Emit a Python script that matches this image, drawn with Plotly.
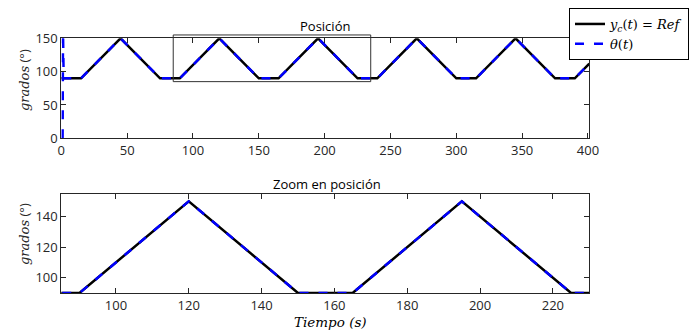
import plotly.graph_objects as go

# ---- data ----
t_ref = [0, 15, 45, 75, 90, 120, 150, 165, 195, 225, 240, 270, 300, 315, 345, 375, 390, 401]
y_ref = [90, 90, 150, 90, 90, 150, 90, 90, 150, 90, 90, 150, 90, 90, 150, 90, 90, 112]

t_theta = [1.0, 1.3, 1.8, 15, 45, 75, 90, 120, 150, 165, 195, 225, 240, 270, 300, 315, 345, 375, 390, 401]
y_theta = [0, 160, 90, 90, 150, 90, 90, 150, 90, 90, 150, 90, 90, 150, 90, 90, 150, 90, 90, 112]

top_xrange = [0, 401]
top_yrange = [0, 150]
top_xticks = [0, 50, 100, 150, 200, 250, 300, 350, 400]
top_yticks = [0, 50, 100, 150]

bot_xrange = [85, 230]
bot_yrange = [90, 155]
bot_xticks = [100, 120, 140, 160, 180, 200, 220]
bot_yticks = [100, 120, 140]

zoom_box_x = [85, 235]
zoom_box_y = [85, 155]

# page window and the default body margin of the html page
W, H = 697, 334
OFF = 8
FW, FH = W - OFF, H - OFF

AX = "#262626"
SERIF = "DejaVu Serif"
SANS = "Open Sans"

fig = go.Figure()

for xa, ya, show in [("x", "y", True), ("x2", "y2", False)]:
    fig.add_trace(go.Scatter(
        x=t_ref, y=y_ref, mode="lines", xaxis=xa, yaxis=ya,
        line=dict(color="black", width=2.5),
        name="<i>y</i><sub><i>c</i></sub>(<i>t</i>) = <i>Ref</i>",
        showlegend=show, legendgroup="ref"))
    fig.add_trace(go.Scatter(
        x=t_theta, y=y_theta, mode="lines", xaxis=xa, yaxis=ya,
        line=dict(color="#0000FF", width=2.5, dash="9px,10px"),
        name="<i>θ</i>(<i>t</i>)",
        showlegend=show, legendgroup="theta"))


def px_x(a):
    return (a - OFF) / FW


def px_y(b):
    return 1 - (b - OFF) / FH


axis_common = dict(
    showline=True, linecolor=AX, linewidth=1, mirror="ticks",
    ticks="inside", ticklen=5, tickcolor=AX, tickwidth=1,
    showgrid=False, zeroline=False,
    tickfont=dict(family=SANS, size=13, color=AX),
)

fig.update_layout(
    width=FW, height=FH,
    margin=dict(l=0, r=0, t=0, b=0, autoexpand=False),
    paper_bgcolor="white", plot_bgcolor="white",
    xaxis=dict(domain=[px_x(61.3), px_x(589.3)], range=top_xrange, tickvals=top_xticks,
               anchor="y", **axis_common),
    yaxis=dict(domain=[px_y(138.3), px_y(38.3)], range=top_yrange, tickvals=top_yticks,
               anchor="x", **axis_common),
    xaxis2=dict(domain=[px_x(61.3), px_x(589.3)], range=bot_xrange, tickvals=bot_xticks,
                anchor="y2", **axis_common),
    yaxis2=dict(domain=[px_y(293.0), px_y(193.7)], range=bot_yrange, tickvals=bot_yticks,
                anchor="x2", **axis_common),
    legend=dict(x=px_x(689), y=1.0, xanchor="right", yanchor="top",
                bgcolor="white", bordercolor="black", borderwidth=1,
                font=dict(family=SERIF, size=13, color="black"),
                itemwidth=30, tracegroupgap=0,
                traceorder="normal"),
    showlegend=True,
)


def ydom(v, r):
    return (v - r[0]) / (r[1] - r[0])


fig.add_shape(type="rect", xref="x", yref="y domain",
              x0=zoom_box_x[0], x1=zoom_box_x[1],
              y0=ydom(zoom_box_y[0], top_yrange), y1=ydom(zoom_box_y[1], top_yrange),
              line=dict(color="#333333", width=1), fillcolor="rgba(0,0,0,0)")

ylab = "<span style=\"font-family:DejaVu Serif\"><i>grados</i></span> (°)"
fig.add_annotation(text="Posición", xref="paper", yref="paper",
                   x=px_x(325), y=px_y(26), xanchor="center", yanchor="middle",
                   showarrow=False, font=dict(family=SANS, size=13, color="black"))
fig.add_annotation(text="Zoom en posición", xref="paper", yref="paper",
                   x=px_x(327), y=px_y(184), xanchor="center", yanchor="middle",
                   showarrow=False, font=dict(family=SANS, size=13, color="black"))
fig.add_annotation(text=ylab, xref="paper", yref="paper",
                   x=px_x(24), y=px_y(80), xanchor="center", yanchor="middle",
                   textangle=-90, showarrow=False,
                   font=dict(family=SANS, size=13, color=AX))
fig.add_annotation(text=ylab, xref="paper", yref="paper",
                   x=px_x(24), y=px_y(234), xanchor="center", yanchor="middle",
                   textangle=-90, showarrow=False,
                   font=dict(family=SANS, size=13, color=AX))
fig.add_annotation(text="<i>Tiempo (s)</i>", xref="paper", yref="paper",
                   x=px_x(330), y=px_y(322), xanchor="center", yanchor="middle",
                   showarrow=False, font=dict(family=SERIF, size=13.5, color="black"))

fig.write_html("out.html")
